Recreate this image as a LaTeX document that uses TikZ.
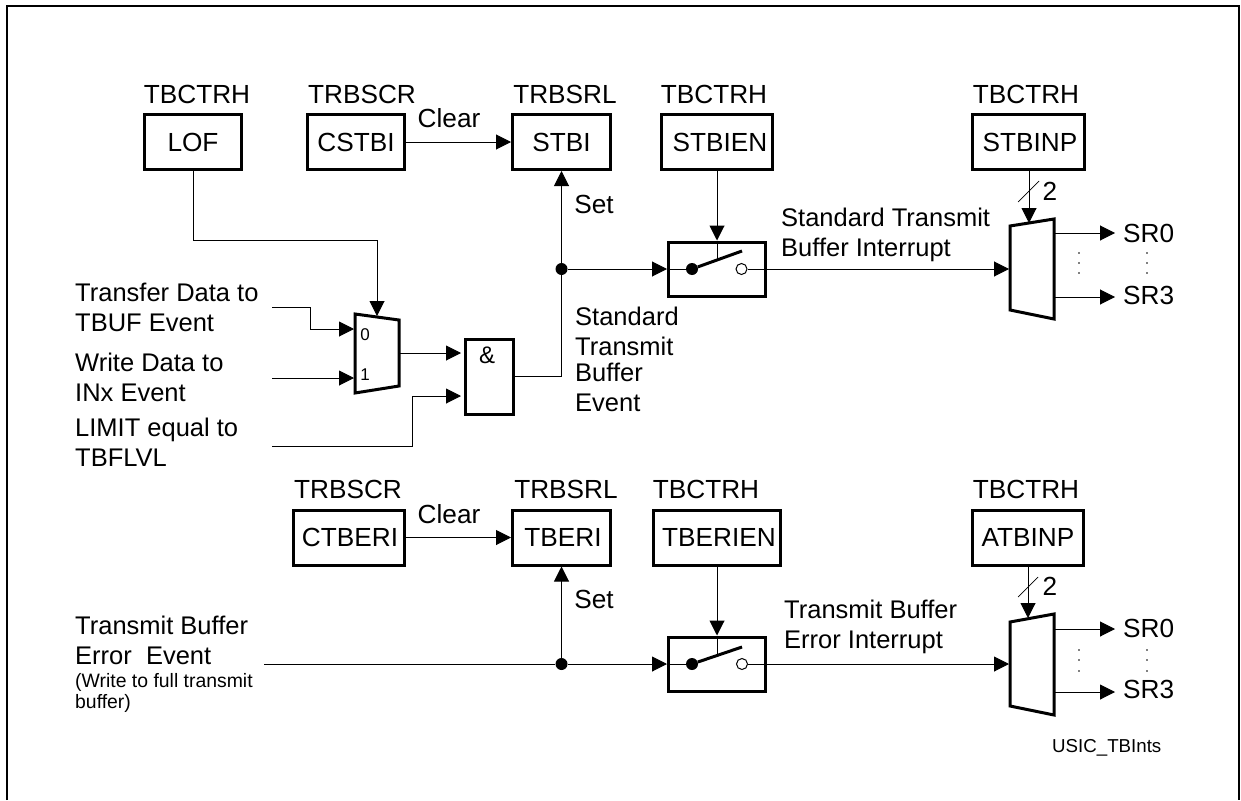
\documentclass[tikz,border=0pt]{standalone}
\usepackage{fontspec}
\setmainfont{Liberation Sans}
\usetikzlibrary{arrows.meta}
\tikzset{
  regbox/.style={draw,line width=3pt,inner sep=0pt,minimum height=55pt,font=\fontsize{26.2}{30}\selectfont},
  swbox/.style={draw,line width=3pt,minimum width=97pt,minimum height=54pt},
  lbl/.style={inner sep=0pt,font=\fontsize{26.2}{30}\selectfont},
  lbltext/.style={inner sep=0pt,anchor=west,align=left,font=\fontsize{25.5}{30}\selectfont},
  digit/.style={inner sep=0pt,font=\fontsize{17}{20}\selectfont},
  tiny/.style={inner sep=0pt,anchor=west,align=left,font=\fontsize{19.4}{21}\selectfont},
  wire/.style={line width=1pt},
  flow/.style={line width=1pt,-{Triangle[length=15pt,width=15pt]}},
  muxedge/.style={line width=3pt,miter limit=10},
  arm/.style={line width=3pt},
  junct/.style={circle,fill=black,inner sep=0pt,minimum size=12pt},
  contact/.style={circle,draw,fill=white,line width=1pt,inner sep=0pt,minimum size=11pt},
  vdot/.style={circle,fill=black,inner sep=0pt,minimum size=1.8pt}
}
\begin{document}
\begin{tikzpicture}[x=1pt,y=-1pt]
        \useasboundingbox (0,0) rectangle (1241,800);
        \draw[line width=2pt] (6.5,800) -- (6.5,6) -- (1239,6) -- (1239,800);

        \node[lbl] (lofreg) at (197,94) {TBCTRH};
        \node[lbl] (cstbireg) at (362,94) {TRBSCR};
        \node[lbl] (stbireg) at (565,94) {TRBSRL};
        \node[lbl] (stbienreg) at (714,94) {TBCTRH};
        \node[lbl] (stbinpreg) at (1026,94) {TBCTRH};
        \node[regbox,minimum width=97pt] (lof) at (193,142) {LOF};
        \node[regbox,minimum width=97pt] (cstbi) at (356,142) {CSTBI};
        \node[regbox,minimum width=98pt] (stbi) at (561.5,142) {STBI};
        \node[regbox,minimum width=111pt] (stbien) at (717,142) {\hspace*{6pt}STBIEN};
        \node[regbox,minimum width=112pt] (stbinp) at (1028.5,142) {\hspace*{3pt}STBINP};
        \node[lbl] (clearA) at (449,118) {Clear};
        \node[lbl] (setlblA) at (594,204) {Set};

        \node[lbltext] (transfer) at (75,307) {Transfer Data to\\TBUF Event};
        \node[lbltext] (writedata) at (75,377) {Write Data to\\INx Event};
        \node[lbltext] (limit) at (75,442) {LIMIT equal to\\TBFLVL};
        \node[lbltext] (stdevent) at (575,359) {Standard\\Transmit\\[-4pt]Buffer\\Event};
        \node[lbltext] (stdint) at (781,235) {Standard Transmit\\Buffer Interrupt};

        \coordinate (transferend) at (272,307);
        \coordinate (writeend) at (272,378);
        \coordinate (limitend) at (272,446);
        \draw[muxedge,fill=white] (355,314) -- (399,320) -- (399,386) -- (355,393) -- cycle;
        \coordinate (muxAtop) at (377,316);
        \coordinate (muxAzero) at (354,329);
        \coordinate (muxAone) at (354,378);
        \coordinate (muxAout) at (399,353);
        \node[digit] (zero) at (365,335) {0};
        \node[digit] (one) at (365,375) {1};
        \node[regbox,minimum width=48pt,minimum height=75pt,anchor=north west] (andA) at (463.5,337.5) {};
        \node[lbl,font=\fontsize{24}{26}\selectfont] (andsign) at (487,355) {\&};
        \coordinate (andAup) at (461,353);
        \coordinate (andAlow) at (461,396);
        \node[junct] (junctA) at (561.5,269) {};

        \draw[wire] (lof.south) -- (193,240) -| (377,300);
        \draw[flow] (377,240) -- (muxAtop);
        \draw[flow] (transferend) -| (310,329) -- (muxAzero);
        \draw[flow] (writeend) -- (muxAone);
        \draw[flow] (limitend) -| (412,396) -- (andAlow);
        \draw[flow] (muxAout) -- (andAup);
        \draw[wire] (andA.east) -| (junctA);
        \draw[flow] (junctA) -- (stbi.south);
        \draw[flow] (cstbi.east) -- (stbi.west);

        \node[swbox] (swA) at (717,269) {};
        \node[junct] (swAfix) at (692,269) {};
        \node[contact] (swAopen) at (741.5,269) {};
        \coordinate (swAarm) at (742,251);
        \coordinate (swAlink) at (717,261);
        \draw[flow] (junctA) -- (swA.west);
        \draw[wire] (swA.west) -- (swAfix);
        \draw[arm] (swAfix) -- (swAarm);
        \draw[flow] (stbien.south) -- (swA.north);
        \draw[wire] (swA.north) -- (swAlink);

        \draw[muxedge,fill=white] (1010,226) -- (1054,219) -- (1054,319) -- (1010,310) -- cycle;
        \coordinate (muxBin) at (1009,269);
        \coordinate (muxBtop) at (1029,223);
        \coordinate (muxBzero) at (1054,233);
        \coordinate (muxBthree) at (1054,297);
        \coordinate (slashAlow) at (1018,202);
        \coordinate (slashAup) at (1039,181);
        \draw[flow] (swAopen) -- (muxBin);
        \draw[flow] (stbinp.south -| muxBtop) -- (muxBtop);
        \draw[line width=0.7pt] (slashAlow) -- (slashAup);
        \node[lbl] (twoA) at (1050,191) {2};
        \node[lbl,anchor=west] (srzeroA) at (1123,233) {SR0};
        \node[lbl,anchor=west] (srthreeA) at (1123,295) {SR3};
        \coordinate (srzeroAend) at (1115,233);
        \coordinate (srthreeAend) at (1115,297);
        \draw[flow] (muxBzero) -- (srzeroAend);
        \draw[flow] (muxBthree) -- (srthreeAend);
        \node[vdot] (dotAa) at (1079,253) {};
        \node[vdot] (dotAb) at (1079,263) {};
        \node[vdot] (dotAc) at (1079,273) {};
        \node[vdot] (dotAd) at (1147,253) {};
        \node[vdot] (dotAe) at (1147,263) {};
        \node[vdot] (dotAf) at (1147,273) {};

        \node[lbl] (ctberireg) at (348,489) {TRBSCR};
        \node[lbl] (tberireg) at (566,489) {TRBSRL};
        \node[lbl] (tberienreg) at (706,489) {TBCTRH};
        \node[lbl] (atbinpreg) at (1026,489) {TBCTRH};
        \node[regbox,minimum width=111pt] (ctberi) at (349,537.5) {\hspace*{2pt}CTBERI};
        \node[regbox,minimum width=98pt] (tberi) at (561.5,537.5) {\hspace*{3pt}TBERI};
        \node[regbox,minimum width=127pt] (tberien) at (717,537.5) {\hspace*{4pt}TBERIEN};
        \node[regbox,minimum width=111pt] (atbinp) at (1028,537.5) {ATBINP};
        \node[lbl] (clearB) at (449,514) {Clear};
        \node[lbl] (setlblB) at (594,599) {Set};

        \node[lbltext] (errevent) at (75,640.5) {Transmit Buffer\\Error\ \ Event};
        \node[tiny] (errnote) at (75,692.5) {(Write to full transmit\\buffer)};
        \node[lbltext] (errint) at (784,627) {Transmit Buffer\\Error Interrupt};

        \coordinate (errend) at (264,664);
        \node[junct] (junctB) at (561.5,664) {};
        \node[swbox] (swB) at (717,664) {};
        \node[junct] (swBfix) at (692,664) {};
        \node[contact] (swBopen) at (742,664) {};
        \coordinate (swBarm) at (742,647);
        \coordinate (swBlink) at (717,656);
        \draw[wire] (errend) -- (junctB);
        \draw[flow] (junctB) -- (tberi.south);
        \draw[flow] (ctberi.east) -- (tberi.west);
        \draw[flow] (junctB) -- (swB.west);
        \draw[wire] (swB.west) -- (swBfix);
        \draw[arm] (swBfix) -- (swBarm);
        \draw[flow] (tberien.south) -- (swB.north);
        \draw[wire] (swB.north) -- (swBlink);

        \draw[muxedge,fill=white] (1010,622) -- (1054,614) -- (1054,715) -- (1010,706) -- cycle;
        \coordinate (muxCin) at (1009,664);
        \coordinate (muxCtop) at (1028,618);
        \coordinate (muxCzero) at (1054,629);
        \coordinate (muxCthree) at (1054,692);
        \coordinate (slashBlow) at (1018,597);
        \coordinate (slashBup) at (1038,577);
        \draw[flow] (swBopen) -- (muxCin);
        \draw[flow] (atbinp.south -| muxCtop) -- (muxCtop);
        \draw[line width=0.7pt] (slashBlow) -- (slashBup);
        \node[lbl] (twoB) at (1050,586) {2};
        \node[lbl,anchor=west] (srzeroB) at (1123,628) {SR0};
        \node[lbl,anchor=west] (srthreeB) at (1123,689) {SR3};
        \coordinate (srzeroBend) at (1115,629);
        \coordinate (srthreeBend) at (1115,692);
        \draw[flow] (muxCzero) -- (srzeroBend);
        \draw[flow] (muxCthree) -- (srthreeBend);
        \node[vdot] (dotBa) at (1079,650) {};
        \node[vdot] (dotBb) at (1079,660) {};
        \node[vdot] (dotBc) at (1079,671) {};
        \node[vdot] (dotBd) at (1147,650) {};
        \node[vdot] (dotBe) at (1147,660) {};
        \node[vdot] (dotBf) at (1147,671) {};

        \node[tiny,font=\fontsize{18.7}{21}\selectfont] (usic) at (1052,748) {USIC\_TBInts};
      \end{tikzpicture}
\end{document}
